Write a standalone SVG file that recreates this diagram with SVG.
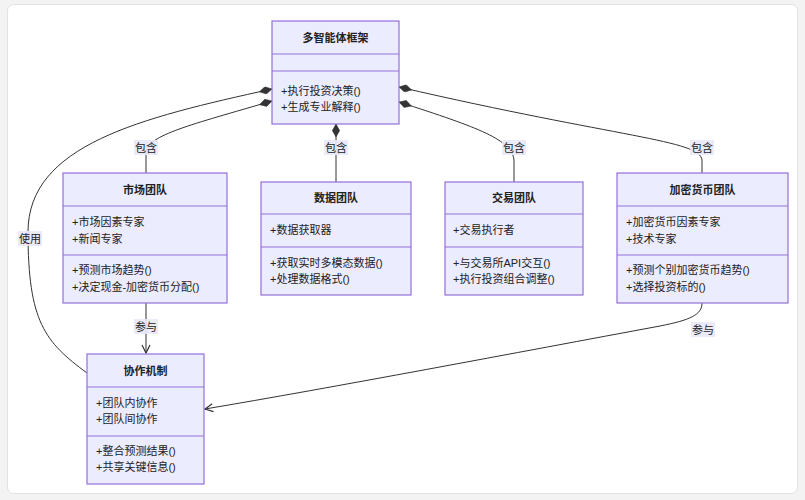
<svg xmlns="http://www.w3.org/2000/svg" width="805" height="500" viewBox="0 0 805 500">
<defs>
<style>
.box{fill:#ECECFF;stroke:#9370DB;stroke-width:1.2}
.div{stroke:#9370DB;stroke-width:1.2}
.t{font-family:"Liberation Sans","Noto Sans CJK SC",sans-serif;font-size:11px;fill:#222}
.title{font-weight:bold;text-anchor:middle}
.edge{fill:none;stroke:#333;stroke-width:1}
.lbg{fill:#E8E8F8;opacity:0.9}
.lbl{text-anchor:middle}
</style>
<marker id="diamond" viewBox="0 0 14 8" refX="0" refY="4" markerWidth="14" markerHeight="8" markerUnits="userSpaceOnUse" orient="auto">
<path d="M0,4 L6.5,0.3 L13,4 L6.5,7.7 Z" fill="#333" stroke="#333" stroke-width="0.5"/>
</marker>
<marker id="open" viewBox="0 0 10 10" refX="9" refY="5" markerWidth="10" markerHeight="10" markerUnits="userSpaceOnUse" orient="auto">
<path d="M1,1 L9,5 L1,9" fill="none" stroke="#333" stroke-width="1.2"/>
</marker>
</defs>
<rect x="0" y="0" width="805" height="500" fill="#f3f3f3"/>
<rect x="7.5" y="4.5" width="790" height="489" rx="6" fill="#ffffff" stroke="#e2e2e2"/>

<g id="edges">
<path class="edge" marker-start="url(#diamond)" d="M272,89 C140,118 28,145 28,232 C28,322 45,342 87,373"/>
<path class="edge" marker-start="url(#diamond)" d="M272,101 C190,125 148,135 146,152 L146,173"/>
<path class="edge" marker-start="url(#diamond)" d="M336,124 L336,182"/>
<path class="edge" marker-start="url(#diamond)" d="M399,102 C480,128 512,140 514,160 L514,182"/>
<path class="edge" marker-start="url(#diamond)" d="M399,87 C620,138 700,140 702,160 L702,173"/>
<path class="edge" marker-end="url(#open)" d="M146,303 L146,353"/>
<path class="edge" marker-end="url(#open)" d="M702,303 C702,315 690,320 660,326 C520,352 330,388 205,409"/>
<rect class="lbg" x="134" y="140" width="24" height="15"/>
<text class="t lbl" x="146" y="152">包含</text>
<rect class="lbg" x="324" y="140" width="24" height="15"/>
<text class="t lbl" x="336" y="152">包含</text>
<rect class="lbg" x="502" y="140" width="24" height="15"/>
<text class="t lbl" x="514" y="152">包含</text>
<rect class="lbg" x="690" y="140" width="24" height="15"/>
<text class="t lbl" x="702" y="152">包含</text>
<rect class="lbg" x="18" y="231" width="24" height="15"/>
<text class="t lbl" x="30" y="243">使用</text>
<rect class="lbg" x="134" y="319" width="24" height="15"/>
<text class="t lbl" x="146" y="331">参与</text>
<rect class="lbg" x="691" y="322" width="24" height="15"/>
<text class="t lbl" x="703" y="334">参与</text>
</g>

<g id="framework">
<rect class="box" x="272" y="21" width="127" height="103"/>
<line class="div" x1="272" y1="54" x2="399" y2="54"/>
<line class="div" x1="272" y1="71" x2="399" y2="71"/>
<text class="t title" x="335.5" y="42">多智能体框架</text>
<text class="t" x="281" y="95">+执行投资决策()</text>
<text class="t" x="281" y="111">+生成专业解释()</text>
</g>

<g id="market">
<rect class="box" x="63" y="173" width="164" height="130"/>
<line class="div" x1="63" y1="206" x2="227" y2="206"/>
<line class="div" x1="63" y1="255" x2="227" y2="255"/>
<text class="t title" x="145" y="194">市场团队</text>
<text class="t" x="72" y="226">+市场因素专家</text>
<text class="t" x="72" y="243">+新闻专家</text>
<text class="t" x="72" y="274">+预测市场趋势()</text>
<text class="t" x="72" y="291">+决定现金-加密货币分配()</text>
</g>

<g id="data">
<rect class="box" x="261" y="182" width="150" height="113"/>
<line class="div" x1="261" y1="214" x2="411" y2="214"/>
<line class="div" x1="261" y1="247" x2="411" y2="247"/>
<text class="t title" x="336" y="202">数据团队</text>
<text class="t" x="270" y="234">+数据获取器</text>
<text class="t" x="270" y="267">+获取实时多模态数据()</text>
<text class="t" x="270" y="283">+处理数据格式()</text>
</g>

<g id="trade">
<rect class="box" x="445" y="182" width="138" height="113"/>
<line class="div" x1="445" y1="214" x2="583" y2="214"/>
<line class="div" x1="445" y1="247" x2="583" y2="247"/>
<text class="t title" x="514" y="202">交易团队</text>
<text class="t" x="453" y="234">+交易执行者</text>
<text class="t" x="453" y="267">+与交易所API交互()</text>
<text class="t" x="453" y="283">+执行投资组合调整()</text>
</g>

<g id="crypto">
<rect class="box" x="617" y="173" width="171" height="130"/>
<line class="div" x1="617" y1="206" x2="788" y2="206"/>
<line class="div" x1="617" y1="255" x2="788" y2="255"/>
<text class="t title" x="702.5" y="194">加密货币团队</text>
<text class="t" x="626" y="226">+加密货币因素专家</text>
<text class="t" x="626" y="243">+技术专家</text>
<text class="t" x="626" y="274">+预测个别加密货币趋势()</text>
<text class="t" x="626" y="291">+选择投资标的()</text>
</g>

<g id="collab">
<rect class="box" x="87" y="354" width="117" height="130"/>
<line class="div" x1="87" y1="387" x2="204" y2="387"/>
<line class="div" x1="87" y1="436" x2="204" y2="436"/>
<text class="t title" x="145.5" y="375">协作机制</text>
<text class="t" x="96" y="407">+团队内协作</text>
<text class="t" x="96" y="423">+团队间协作</text>
<text class="t" x="96" y="455">+整合预测结果()</text>
<text class="t" x="96" y="471">+共享关键信息()</text>
</g>
</svg>
